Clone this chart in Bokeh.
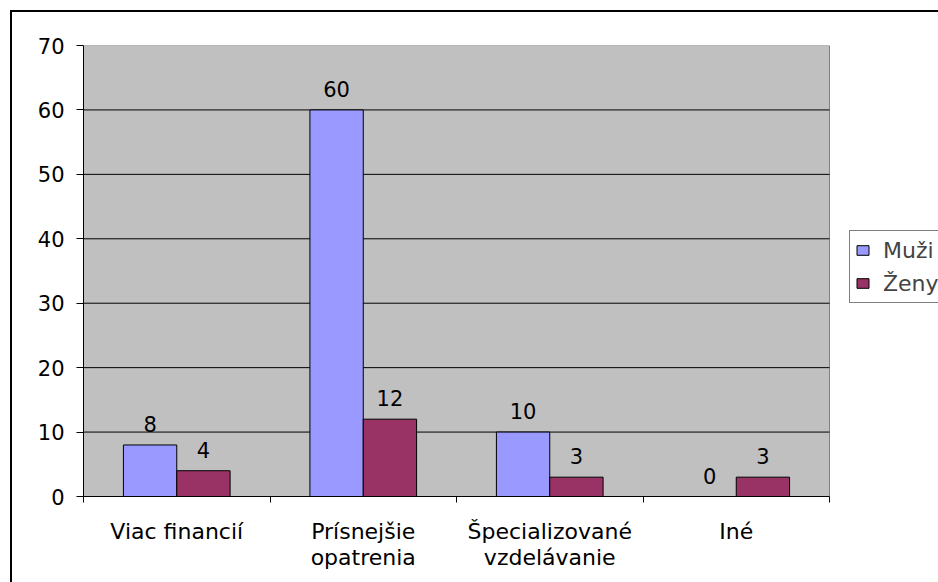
from bokeh.plotting import figure
from bokeh.models import (Range1d, FixedTicker, Legend, LegendItem,
                          ColumnDataSource)
from bokeh.core.properties import value
from bokeh.embed import file_html
from bokeh.resources import INLINE
import numpy as np

# Survey answers by respondent group
categories = ["Viac financií", "Prísnejšie\nopatrenia",
              "Špecializované\nvzdelávanie", "Iné"]
muzi = [8, 60, 10, 0]
zeny = [4, 12, 3, 3]
series_names = ["Muži", "Ženy"]
y_ticks = [0, 10, 20, 30, 40, 50, 60, 70]

FONT = "DejaVu Sans"
BAR_W = 0.286
N = len(categories)
Y_MAX = y_ticks[-1]
# the frame runs on to the right edge so the legend has room beside the plot area
X_END = N * 855 / 746

centers = np.arange(N) + 0.5
src = ColumnDataSource(dict(
    xm=centers - BAR_W / 2,
    xz=centers + BAR_W / 2,
    muzi=muzi,
    zeny=zeny,
    lm=[str(v) for v in muzi],
    lz=[str(v) for v in zeny],
))

p = figure(width=938, height=582, output_backend="svg", toolbar_location=None,
           x_range=Range1d(0, X_END), y_range=Range1d(0, Y_MAX),
           min_border_left=83, min_border_right=0,
           min_border_top=45, min_border_bottom=86,
           background_fill_color=None, border_fill_color=None,
           outline_line_color=None)

# white page with the chart's outer frame line (top and left edges)
p.styles = {
    "background": ("linear-gradient(#000, #000) 10px 10px / 2px 100% no-repeat, "
                   "linear-gradient(#000, #000) 10px 10px / 100% 2px no-repeat, "
                   "#ffffff"),
}

# grey plot area with its thin border
p.quad(left=0, right=N, bottom=0, top=Y_MAX,
       fill_color="#C0C0C0", line_color="#808080", line_width=1)

# horizontal gridlines across the plot area only
grid_y = y_ticks[1:-1]
p.segment(x0=[0] * len(grid_y), x1=[N] * len(grid_y), y0=grid_y, y1=grid_y,
          line_color="black", line_width=1)
p.xgrid.visible = False
p.ygrid.visible = False

# bars
r_m = p.vbar(x="xm", top="muzi", width=BAR_W, source=src,
             fill_color="#9999FF", line_color="black", line_width=1)
r_z = p.vbar(x="xz", top="zeny", width=BAR_W, source=src,
             fill_color="#993366", line_color="black", line_width=1)

# value labels above the bars
for xcol, ycol, tcol in (("xm", "muzi", "lm"), ("xz", "zeny", "lz")):
    p.text(x=xcol, y=ycol, text=tcol, source=src,
           text_font=value(FONT), text_font_size="21px",
           text_align="center", text_baseline="middle",
           y_offset=-21, text_color="black")

# y axis
p.yaxis.ticker = FixedTicker(ticks=y_ticks)
p.yaxis.axis_line_color = "black"
p.yaxis.major_tick_line_color = "black"
p.yaxis.major_tick_out = 7
p.yaxis.major_tick_in = 0
p.yaxis.minor_tick_line_color = None
p.yaxis.major_label_standoff = 12
p.yaxis.major_label_text_font = FONT
p.yaxis.major_label_text_font_size = "21px"
p.yaxis.major_label_text_color = "black"

# x axis: labels at category centres, tick marks between categories
p.xaxis.bounds = (0, N)
p.xaxis.ticker = FixedTicker(ticks=list(centers),
                             minor_ticks=list(range(N + 1)))
p.xaxis.major_label_overrides = {float(c): lab for c, lab in zip(centers, categories)}
p.xaxis.axis_line_color = "black"
p.xaxis.major_tick_out = 0
p.xaxis.major_tick_in = 0
p.xaxis.major_tick_line_color = None
p.xaxis.minor_tick_out = 6
p.xaxis.minor_tick_in = 0
p.xaxis.minor_tick_line_color = "black"
p.xaxis.major_label_standoff = 16
p.xaxis.major_label_text_font = FONT
p.xaxis.major_label_text_font_size = "22px"
p.xaxis.major_label_text_line_height = 1.05
p.xaxis.major_label_text_color = "black"

# legend beside the plot area
legend = Legend(items=[LegendItem(label=series_names[0], renderers=[r_m]),
                       LegendItem(label=series_names[1], renderers=[r_z])],
                location=(766, 193), margin=0, padding=5, spacing=5,
                glyph_width=15, glyph_height=12, label_standoff=13,
                label_height=28,
                label_text_font=FONT, label_text_font_size="22px",
                border_line_color="black", border_line_width=1,
                background_fill_color="white", background_fill_alpha=1)
p.add_layout(legend)

open("out.html", "w").write(file_html(p, INLINE))
